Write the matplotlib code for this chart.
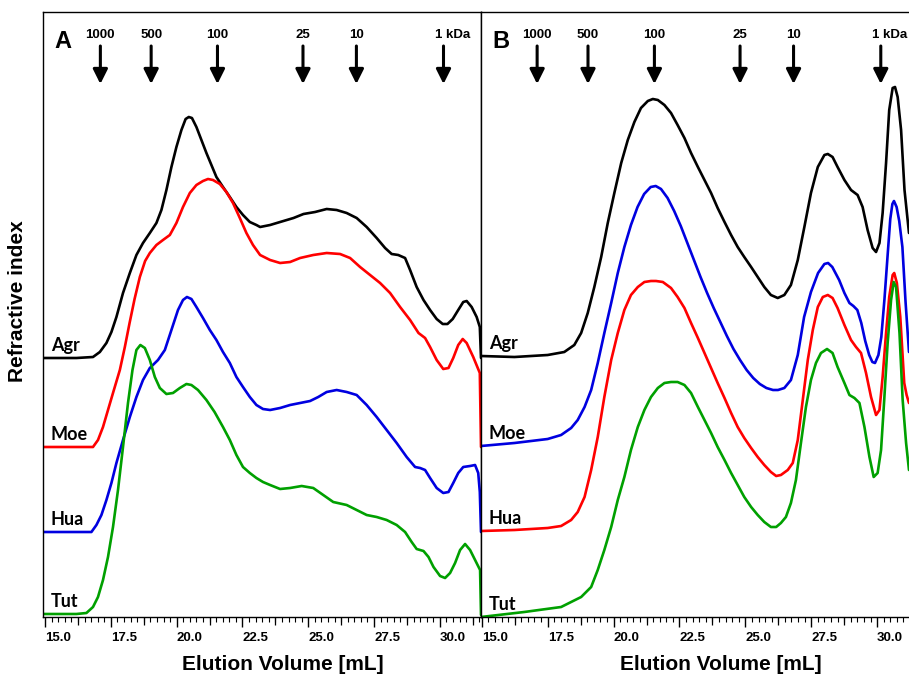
import numpy as np
import matplotlib
matplotlib.use("Agg")
import matplotlib.pyplot as plt
from matplotlib.ticker import FixedLocator, MultipleLocator
from matplotlib.transforms import ScaledTranslation, blended_transform_factory

# --- panel A: elution volume (mL) / refractive index signal (a.u., stacked traces) ---
a_agr_x = [14.92, 16.19, 16.82, 17.08, 17.33, 17.52, 17.71, 17.96, 18.22, 18.47, 18.72, 18.98,
           19.23, 19.42, 19.61, 19.80, 19.99, 20.18, 20.34, 20.46, 20.58, 20.75, 20.94, 21.13,
           21.32, 21.51, 21.76, 22.02, 22.27, 22.52, 22.78, 23.03, 23.17, 23.55, 23.93, 24.44,
           24.82, 25.26, 25.70, 26.08, 26.46, 26.84, 27.22, 27.60, 27.92, 28.17, 28.42, 28.68,
           28.87, 29.12, 29.38, 29.63, 29.88, 30.11, 30.29, 30.49, 30.70, 30.89, 31.02, 31.21,
           31.40, 31.52, 31.565]
a_agr_y = [259, 259, 260, 265, 274, 285, 300, 324, 344, 362, 374, 384,
           394, 407, 427, 450, 470, 487, 498, 500, 499, 490, 477, 464,
           452, 440, 430, 420, 410, 402, 395, 392, 390, 392, 395, 399,
           403, 405, 408, 407, 404, 399, 390, 379, 369, 363, 362, 359,
           347, 330, 317, 307, 298, 293, 293, 298, 307, 315, 316, 310,
           300, 290, 259]

a_moe_x = [14.92, 16.82, 17.01, 17.20, 17.39, 17.58, 17.84, 18.03, 18.21, 18.40, 18.60, 18.80,
           18.98, 19.23, 19.48, 19.74, 19.99, 20.24, 20.50, 20.75, 21.00, 21.19, 21.38, 21.64,
           21.89, 22.14, 22.40, 22.65, 22.90, 23.17, 23.55, 23.93, 24.31, 24.69, 25.19, 25.70,
           26.21, 26.59, 26.97, 27.35, 27.73, 28.11, 28.49, 28.87, 29.19, 29.44, 29.63, 29.88,
           30.13, 30.33, 30.51, 30.70, 30.87, 31.02, 31.27, 31.52, 31.565]
a_moe_y = [170, 170, 177, 190, 207, 224, 247, 270, 294, 318, 340, 356,
           364, 372, 377, 382, 394, 410, 424, 432, 436, 438, 437, 433,
           425, 414, 399, 384, 372, 362, 357, 354, 355, 359, 362, 364,
           363, 359, 350, 342, 334, 324, 310, 297, 284, 279, 270, 257,
           248, 249, 259, 272, 278, 274, 260, 244, 170]

a_hua_x = [14.92, 16.76, 16.95, 17.14, 17.33, 17.52, 17.71, 17.96, 18.22, 18.47, 18.72, 18.98,
           19.29, 19.55, 19.80, 20.05, 20.24, 20.39, 20.56, 20.75, 21.00, 21.26, 21.51, 21.76,
           22.02, 22.27, 22.52, 22.78, 23.03, 23.28, 23.55, 23.93, 24.31, 24.69, 25.07, 25.38,
           25.70, 26.08, 26.46, 26.84, 27.22, 27.60, 27.98, 28.36, 28.74, 29.06, 29.25, 29.44,
           29.63, 29.88, 30.13, 30.33, 30.51, 30.70, 30.89, 31.15, 31.34, 31.46, 31.52, 31.565]
a_hua_y = [85, 85, 92, 102, 117, 134, 154, 177, 200, 220, 237, 249,
           257, 267, 287, 307, 317, 320, 318, 310, 299, 287, 277, 265,
           254, 240, 230, 220, 212, 208, 207, 209, 212, 214, 216, 220,
           225, 227, 225, 222, 212, 200, 187, 174, 160, 150, 149, 147,
           139, 129, 124, 125, 134, 144, 150, 151, 152, 144, 125, 85]

a_tut_x = [14.92, 16.19, 16.57, 16.82, 17.01, 17.20, 17.39, 17.58, 17.77, 17.96, 18.15, 18.32,
           18.47, 18.62, 18.79, 18.98, 19.17, 19.36, 19.61, 19.86, 20.12, 20.37, 20.56, 20.81,
           21.13, 21.44, 21.76, 22.02, 22.27, 22.52, 22.78, 23.03, 23.28, 23.55, 23.93, 24.31,
           24.75, 25.19, 25.57, 25.95, 26.46, 26.84, 27.22, 27.60, 27.98, 28.36, 28.68, 28.93,
           29.12, 29.38, 29.57, 29.76, 30.01, 30.20, 30.39, 30.58, 30.77, 30.96, 31.15, 31.34,
           31.53, 31.565]
a_tut_y = [3, 3, 4, 10, 20, 37, 60, 90, 127, 170, 214, 247,
           267, 272, 269, 257, 240, 229, 223, 224, 229, 233, 232, 227,
           217, 205, 190, 177, 162, 150, 144, 139, 135, 132, 128, 129,
           131, 129, 122, 115, 112, 107, 102, 100, 97, 92, 85, 75,
           68, 66, 60, 50, 41, 39, 44, 54, 67, 73, 67, 57,
           47, 2]

# --- panel B ---
b_agr_x = [14.97, 16.24, 17.50, 18.13, 18.51, 18.77, 19.02, 19.27, 19.53, 19.78, 20.03, 20.29,
           20.54, 20.79, 21.04, 21.30, 21.49, 21.68, 21.93, 22.18, 22.43, 22.69, 22.94, 23.20,
           23.45, 23.70, 23.95, 24.21, 24.46, 24.71, 24.96, 25.22, 25.47, 25.72, 25.97, 26.23,
           26.48, 26.73, 26.99, 27.24, 27.49, 27.75, 28.00, 28.13, 28.31, 28.50, 28.76, 29.01,
           29.26, 29.45, 29.64, 29.83, 29.96, 30.09, 30.21, 30.34, 30.46, 30.59, 30.68, 30.78,
           30.91, 31.04, 31.21]
b_agr_y = [261, 260, 262, 265, 272, 284, 304, 330, 360, 394, 424, 454,
           477, 495, 509, 516, 518, 517, 512, 504, 492, 479, 464, 450,
           437, 424, 409, 395, 382, 370, 360, 350, 340, 330, 322, 319,
           322, 332, 357, 390, 424, 450, 462, 463, 460, 450, 437, 427,
           422, 410, 387, 369, 365, 374, 404, 454, 507, 529, 530, 520,
           487, 427, 384]

b_moe_x = [14.97, 16.24, 17.50, 18.01, 18.39, 18.64, 18.90, 19.15, 19.40, 19.65, 19.91, 20.16,
           20.41, 20.66, 20.91, 21.16, 21.41, 21.60, 21.80, 22.05, 22.30, 22.55, 22.80, 23.05,
           23.30, 23.55, 23.80, 24.05, 24.30, 24.55, 24.80, 25.05, 25.30, 25.55, 25.80, 26.05,
           26.24, 26.48, 26.73, 26.99, 27.23, 27.49, 27.76, 28.00, 28.14, 28.30, 28.56, 28.76,
           28.95, 29.10, 29.25, 29.40, 29.55, 29.70, 29.82, 29.92, 30.05, 30.16, 30.28, 30.40,
           30.50, 30.58, 30.64, 30.74, 30.84, 30.96, 31.08, 31.21]
b_moe_y = [171, 174, 178, 182, 189, 197, 210, 227, 254, 284, 314, 344,
           370, 392, 410, 423, 430, 431, 428, 419, 406, 391, 374, 357,
           340, 324, 309, 295, 281, 268, 257, 247, 239, 233, 229, 227,
           227, 229, 237, 262, 300, 325, 344, 353, 354, 350, 337, 324,
           314, 311, 307, 294, 276, 262, 255, 254, 262, 280, 318, 362,
           398, 413, 416, 410, 396, 370, 315, 265]

b_hua_x = [14.97, 16.24, 17.50, 18.01, 18.39, 18.64, 18.90, 19.15, 19.40, 19.65, 19.91, 20.16,
           20.41, 20.66, 20.92, 21.17, 21.42, 21.61, 21.87, 22.18, 22.43, 22.69, 22.94, 23.20,
           23.45, 23.70, 23.95, 24.21, 24.46, 24.71, 24.96, 25.22, 25.47, 25.72, 25.97, 26.17,
           26.35, 26.61, 26.80, 26.99, 27.18, 27.37, 27.56, 27.75, 27.94, 28.13, 28.31, 28.50,
           28.76, 29.01, 29.20, 29.39, 29.58, 29.77, 29.96, 30.09, 30.21, 30.34, 30.46, 30.59,
           30.65, 30.75, 30.88, 31.03, 31.12, 31.21]
b_hua_y = [86, 87, 89, 91, 97, 105, 120, 147, 180, 220, 257, 284,
           307, 322, 330, 335, 336, 336, 335, 329, 320, 309, 294, 279,
           264, 249, 234, 219, 204, 190, 179, 169, 160, 152, 145, 141,
           142, 147, 154, 177, 217, 257, 287, 310, 320, 322, 319, 309,
           292, 277, 270, 264, 244, 220, 202, 207, 240, 284, 320, 342,
           344, 334, 300, 234, 222, 214]

b_tut_x = [14.97, 16.61, 18.01, 18.77, 19.15, 19.40, 19.65, 19.91, 20.16, 20.41, 20.66, 20.92,
           21.17, 21.42, 21.68, 21.93, 22.18, 22.43, 22.69, 22.94, 23.20, 23.45, 23.70, 23.95,
           24.21, 24.46, 24.71, 24.96, 25.22, 25.47, 25.72, 25.97, 26.17, 26.35, 26.54, 26.73,
           26.92, 27.11, 27.30, 27.49, 27.68, 27.87, 28.10, 28.31, 28.50, 28.76, 28.95, 29.14,
           29.33, 29.52, 29.71, 29.87, 30.02, 30.15, 30.27, 30.40, 30.53, 30.63, 30.72, 30.85,
           30.97, 31.10, 31.21]
b_tut_y = [0, 5, 10, 20, 30, 47, 67, 90, 117, 140, 167, 190,
           207, 220, 229, 234, 235, 235, 232, 224, 210, 197, 184, 170,
           157, 144, 132, 120, 110, 102, 95, 90, 90, 94, 100, 114,
           137, 174, 210, 237, 254, 264, 268, 264, 250, 234, 222, 219,
           214, 190, 160, 140, 144, 167, 217, 274, 317, 335, 330, 284,
           217, 174, 147]

# molecular weight markers (kDa) along the top
marker_vol = [17.1, 19.03, 21.55, 24.8, 26.83, 30.14]
marker_txt = ["1000", "500", "100", "25", "10", "1 kDa"]

major_ticks = [15.0, 17.5, 20.0, 22.5, 25.0, 27.5, 30.0]
mid_ticks = [16.25, 18.75, 21.25, 23.75, 26.25, 28.75, 31.25]

BLACK, RED, BLUE, GREEN = "#000000", "#ff0000", "#0000e0", "#00a000"
plt.rcParams["font.family"] = "Liberation Sans"


def draw_panel(ax, curves, letter, xlim):
    lab = blended_transform_factory(ax.transAxes, ax.transData)
    for x, y, color, name in curves:
        ax.plot(x, y, color=color, lw=1.9, solid_joinstyle="round", solid_capstyle="round")
        ax.text(0.018, y[0] + 7, name, transform=lab, fontsize=13, fontweight="bold",
                family="Lato", va="baseline", ha="left")

    ax.set_xlim(*xlim)
    ax.set_ylim(0, 605)
    ax.set_yticks([])

    ax.xaxis.set_major_locator(FixedLocator(major_ticks))
    ax.set_xticklabels([f"{v:.1f}" for v in major_ticks], fontsize=9.5,
                       fontweight="bold", ha="left")
    shift = ScaledTranslation(2 / 72, 0, ax.figure.dpi_scale_trans)
    for t in ax.get_xticklabels():
        t.set_transform(t.get_transform() + shift)
    ax.xaxis.set_minor_locator(MultipleLocator(0.25))
    ax.tick_params(axis="x", which="major", length=7.5, width=1.0, pad=3)
    ax.tick_params(axis="x", which="minor", length=3.8, width=0.8)
    # half-way ticks are a bit longer than the small ones
    ax.plot(mid_ticks, np.zeros(len(mid_ticks)), ls="none", marker=3, ms=5.5, mew=0.9,
            color="k", transform=ax.get_xaxis_transform(), clip_on=False)

    for s in ax.spines.values():
        s.set_linewidth(1.0)

    ax.text(0.026, 569, letter, transform=lab, fontsize=17, fontweight="bold",
            va="baseline", ha="left")

    for v, t in zip(marker_vol, marker_txt):
        ax.annotate("", xy=(v, 533), xytext=(v, 571),
                    arrowprops=dict(arrowstyle="-|>", mutation_scale=22, lw=2.2,
                                    color="k", shrinkA=0, shrinkB=0))
        if t.endswith("kDa"):
            ax.annotate(t, xy=(v, 579), xytext=(-6, 0), textcoords="offset points",
                        fontsize=9.5, fontweight="bold", ha="left", va="baseline")
        else:
            ax.text(v, 579, t, fontsize=9.5, fontweight="bold", ha="center", va="baseline")

    ax.set_xlabel("Elution Volume [mL]", fontsize=15, fontweight="bold")
    ax.xaxis.set_label_coords(0.548, -0.062)


fig = plt.figure(figsize=(9.09, 6.74), dpi=100)
ax_a = fig.add_axes([43 / 909, 57 / 674, 438 / 909, 605 / 674])
ax_b = fig.add_axes([481 / 909, 57 / 674, 438 / 909, 605 / 674])

draw_panel(ax_a, [(a_agr_x, a_agr_y, BLACK, "Agr"),
                  (a_moe_x, a_moe_y, RED, "Moe"),
                  (a_hua_x, a_hua_y, BLUE, "Hua"),
                  (a_tut_x, a_tut_y, GREEN, "Tut")], "A", (14.92, 31.565))
draw_panel(ax_b, [(b_agr_x, b_agr_y, BLACK, "Agr"),
                  (b_moe_x, b_moe_y, BLUE, "Moe"),
                  (b_hua_x, b_hua_y, RED, "Hua"),
                  (b_tut_x, b_tut_y, GREEN, "Tut")], "B", (14.97, 31.59))

fig.text(18 / 909, 1 - 301 / 674, "Refractive index", rotation=90, ha="center", va="center",
         fontsize=15, fontweight="bold")

fig.savefig("out.png", dpi=100)
